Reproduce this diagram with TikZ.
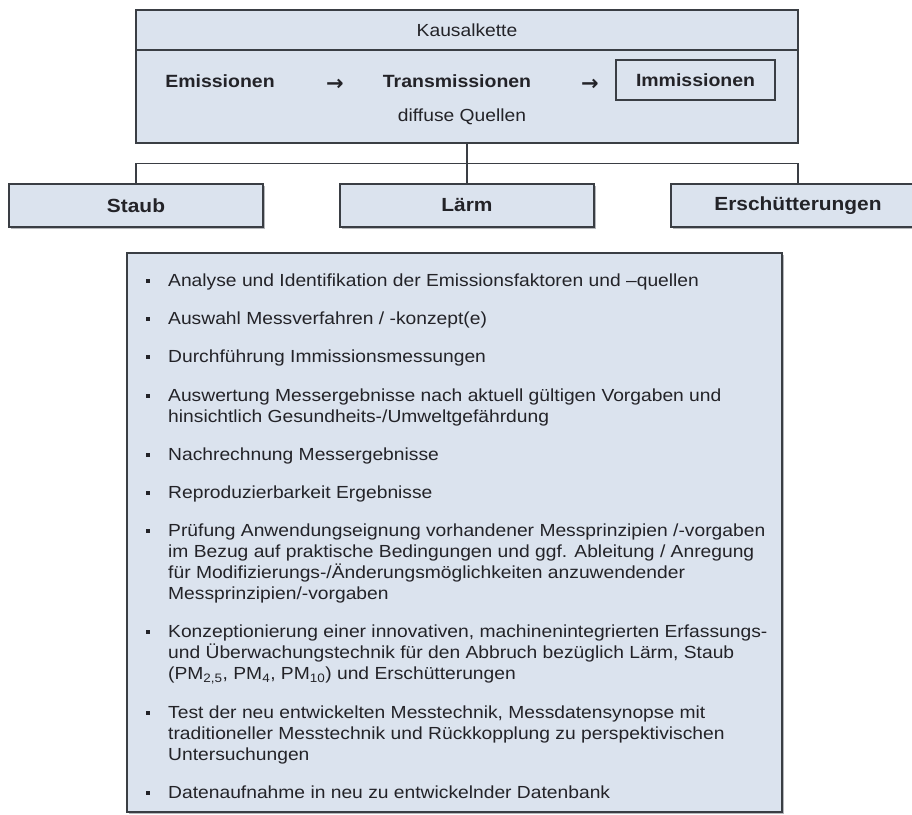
\documentclass[tikz,border=0pt]{standalone}
\usepackage{fontspec}
\setmainfont{Liberation Sans}[FakeStretch=1.1]
\newfontfamily\arrowfont{DejaVu Sans}
\usetikzlibrary{shadows}
\definecolor{boxfill}{RGB}{219,227,238}
\definecolor{boxline}{RGB}{58,62,68}
\definecolor{shade}{RGB}{150,153,158}
\definecolor{ink}{RGB}{35,35,40}
\begin{document}
\begin{tikzpicture}[x=1pt,y=-1pt,
  panel/.style={draw=boxline, line width=1.4pt, fill=boxfill, inner sep=0pt},
  shadowed/.style={drop shadow={shadow xshift=1.5pt, shadow yshift=-1.5pt, fill=shade, opacity=0.7}},
  catbox/.style={panel, shadowed, minimum width=254pt, minimum height=43pt,
    font=\fontsize{19}{22}\selectfont\bfseries, text=ink},
  chain/.style={font=\fontsize{17.7}{20}\selectfont\bfseries, text=ink, inner sep=0pt},
  plain/.style={font=\fontsize{17.5}{20}\selectfont, text=ink, inner sep=0pt},
  arrowsign/.style={font=\fontsize{21}{24}\selectfont\arrowfont\bfseries, text=ink, inner sep=0pt},
  conn/.style={draw=boxline, line width=1.4pt},
  itemline/.style={font=\fontsize{17.5}{21}\selectfont, text=ink, inner sep=0pt, anchor=base west},
  bulletmark/.style={fill=ink, minimum size=4pt, inner sep=0pt}
]
\useasboundingbox (0,0) rectangle (912,814);
\clip (0,0) rectangle (912,814);

% causal chain panel: title band and body
\node[panel, minimum width=662pt, minimum height=40pt] (titel) at (467,30) {};
\node[plain] (kausal) at (467,30) {Kausalkette};
\node[panel, minimum width=662pt, minimum height=93pt] (kette) at (467,96.5) {};
\node[chain] (emi) at (220,81) {Emissionen};
\node[arrowsign] (pfeil1) at (335,84.5) {→};
\node[chain] (trans) at (457,81) {Transmissionen};
\node[arrowsign] (pfeil2) at (590,84.5) {→};
\node[chain, draw=boxline, line width=1.2pt, minimum width=159pt, minimum height=40pt] (immi) at (695.5,80) {Immissionen};
\node[plain] (diffus) at (462,117) {diffuse Quellen};

% three categories
\node[catbox] (staub) at (136,205.5) {Staub};
\node[catbox] (laerm) at (467,205.5) {Lärm};
\node[catbox] (ersch) at (798,205.5) {Erschütterungen};

\draw[conn] (kette.south) -- (laerm.north);
\draw[conn] (staub.north) -- ++(0,-20) -| (ersch.north);

% task list
\node[panel, shadowed, minimum width=655pt, minimum height=559pt] (liste) at (454.5,532.5) {};

\foreach \b [count=\i] in {286.5,324.7,362.9,401.1,460.3,498.5,536.7,637.9,718.1,798.3}
  \node[bulletmark] (b\i) at (148,\b-5.5) {};

\node[itemline] (t1) at (168,286.5) {Analyse und Identifikation der Emissionsfaktoren und –quellen};
\node[itemline] (t2) at (168,324.7) {Auswahl Messverfahren / -konzept(e)};
\node[itemline] (t3) at (168,362.9) {Durchführung Immissionsmessungen};
\node[itemline] (t4a) at (168,401.1) {Auswertung Messergebnisse nach aktuell gültigen Vorgaben und};
\node[itemline] (t4b) at (168,422.1) {hinsichtlich Gesundheits-/Umweltgefährdung};
\node[itemline] (t5) at (168,460.3) {Nachrechnung Messergebnisse};
\node[itemline] (t6) at (168,498.5) {Reproduzierbarkeit Ergebnisse};
\node[itemline] (t7a) at (168,536.7) {Prüfung Anwendungseignung vorhandener Messprinzipien /-vorgaben};
\node[itemline] (t7b) at (168,557.7) {im Bezug auf praktische Bedingungen und ggf. Ableitung / Anregung};
\node[itemline] (t7c) at (168,578.7) {für Modifizierungs-/Änderungsmöglichkeiten anzuwendender};
\node[itemline] (t7d) at (168,599.7) {Messprinzipien/-vorgaben};
\node[itemline] (t8a) at (168,637.9) {Konzeptionierung einer innovativen, machinenintegrierten Erfassungs-};
\node[itemline] (t8b) at (168,658.9) {und Überwachungstechnik für den Abbruch bezüglich Lärm, Staub};
\node[itemline] (t8c) at (168,679.9) {(PM\textsubscript{2,5}, PM\textsubscript{4}, PM\textsubscript{10}) und Erschütterungen};
\node[itemline] (t9a) at (168,718.1) {Test der neu entwickelten Messtechnik, Messdatensynopse mit};
\node[itemline] (t9b) at (168,739.1) {traditioneller Messtechnik und Rückkopplung zu perspektivischen};
\node[itemline] (t9c) at (168,760.1) {Untersuchungen};
\node[itemline] (t10) at (168,798.3) {Datenaufnahme in neu zu entwickelnder Datenbank};
\end{tikzpicture}
\end{document}
